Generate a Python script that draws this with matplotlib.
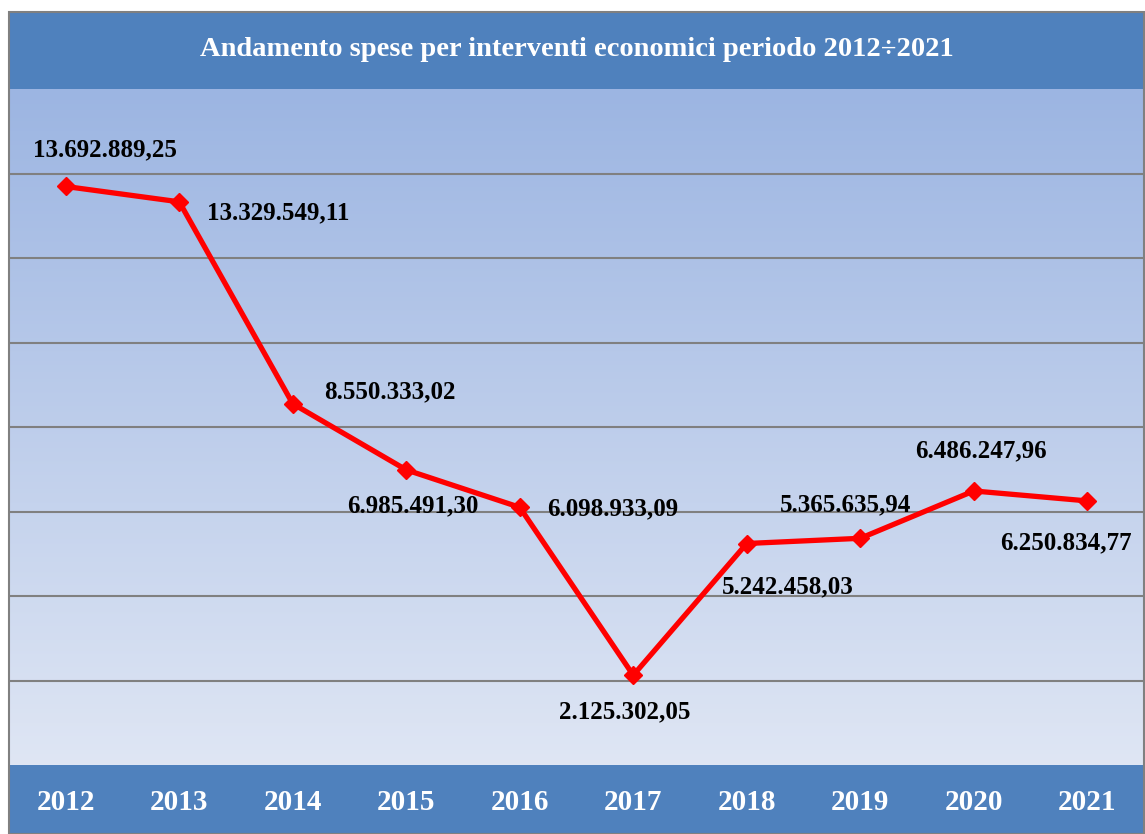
import numpy as np
import matplotlib.pyplot as plt
from matplotlib.patches import Rectangle

# spese per interventi economici 2012-2021
anni = ['2012', '2013', '2014', '2015', '2016', '2017', '2018', '2019', '2020', '2021']
spese = [13692889.25, 13329549.11, 8550333.02, 6985491.30, 6098933.09,
         2125302.05, 5242458.03, 5365635.94, 6486247.96, 6250834.77]
etichette = ['13.692.889,25', '13.329.549,11', '8.550.333,02', '6.985.491,30', '6.098.933,09',
             '2.125.302,05', '5.242.458,03', '5.365.635,94', '6.486.247,96', '6.250.834,77']
titolo = 'Andamento spese per interventi economici periodo 2012÷2021'

W, H = 1145, 834
fig = plt.figure(figsize=(W / 100, H / 100), dpi=100)
font = 'Liberation Serif'

# --- bands (title and years), in pixel coords of the figure
x0, y_top, y_plot_top, y_plot_bot = 9, 12, 89, 765
band = '#4F81BD'
fig.patches.append(Rectangle((x0 / W, 1 - y_plot_top / H), (W - x0) / W, (y_plot_top - y_top) / H,
                             transform=fig.transFigure, facecolor=band, edgecolor='none', zorder=-1))
fig.patches.append(Rectangle((x0 / W, 0), (W - x0) / W, 1 - y_plot_bot / H,
                             transform=fig.transFigure, facecolor=band, edgecolor='none', zorder=-1))

ax = fig.add_axes((x0 / W, 1 - y_plot_bot / H, (W - x0 - 1) / W, (y_plot_bot - y_plot_top) / H))

x = np.arange(len(anni))
ax.set_xlim(-0.5, len(anni) - 0.5)
ax.set_ylim(0, 16e6)

# --- gradient background
grad = np.linspace(0, 1, 256)[:, None]
top = np.array([0x9C, 0xB5, 0xE2]) / 255
bot = np.array([0xDF, 0xE6, 0xF4]) / 255
img = (bot + (top - bot) * grad)[:, None, :]
ax.imshow(img, aspect='auto', extent=(-0.5, len(anni) - 0.5, 0, 16e6), origin='lower', zorder=0)

for g in np.arange(2e6, 16e6, 2e6):
    ax.axhline(g, color='#808080', lw=1.5, zorder=1)

ax.plot(x, spese, color='#FF0000', lw=3.8, marker='D', ms=9, zorder=3)

offs = [(39, 37), (99, -11), (97, 12), (7, -36), (93, -1),
        (-9, -37), (41, -43), (-15, 33), (7, 40), (-21, -42)]
for xi, v, lab, o in zip(x, spese, etichette, offs):
    ax.annotate(lab, (xi, v), xytext=o, textcoords='offset pixels', ha='center', va='center',
                fontsize=18, fontweight='bold', family=font, color='black', zorder=4)

ax.set_xticks([])
ax.set_yticks([])
for s in ax.spines.values():
    s.set_visible(False)

# year labels in the bottom band
for xi, a in zip(x, anni):
    ax.annotate(a, (xi, 0), xytext=(0, -37), textcoords='offset pixels', ha='center', va='center',
                fontsize=21, fontweight='bold', family=font, color='white', annotation_clip=False)

fig.text(0.5 + x0 / W / 2, 1 - 49 / H, titolo, ha='center', va='center', fontsize=20.5,
         fontweight='bold', family=font, color='white')

# outer border
fig.patches.append(Rectangle((x0 / W, 0), (W - x0 - 1) / W, 1 - y_top / H, transform=fig.transFigure,
                             facecolor='none', edgecolor='#808080', lw=1.5, zorder=5))

fig.savefig('out.png', dpi=100)
